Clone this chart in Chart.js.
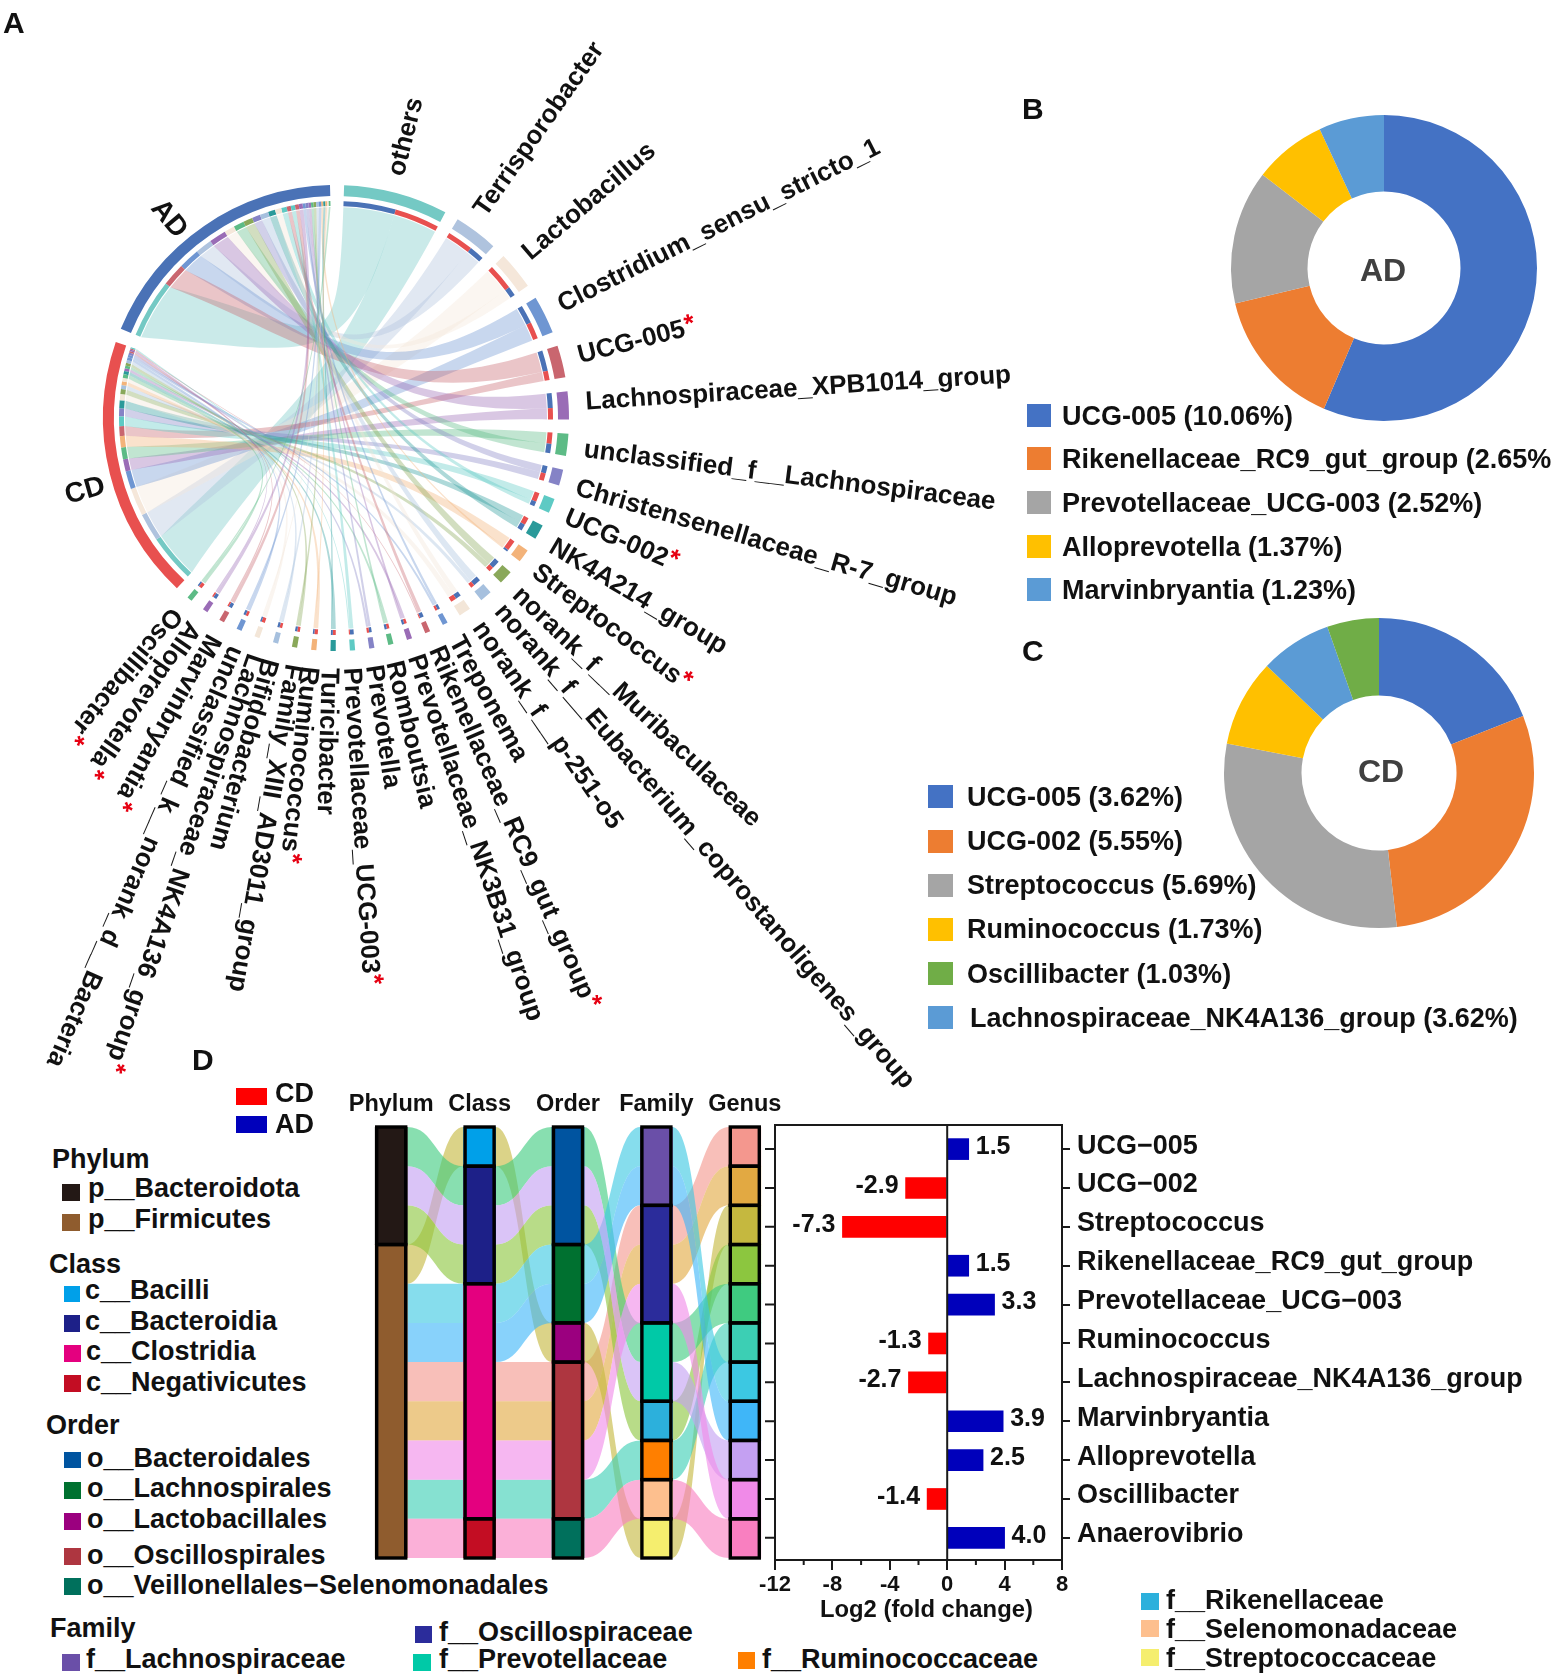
<!DOCTYPE html>
<html>
<head>
<meta charset="utf-8">
<title>Differential genera AD vs CD</title>
<script src="https://cdn.jsdelivr.net/npm/chart.js@4/dist/chart.umd.min.js"></script>
<style>
html, body { margin: 0; background: #fff; }
#page { position: relative; width: 1562px; height: 1679px; overflow: hidden;
  font-family: "Liberation Sans", Arial, sans-serif; font-weight: bold; color: #111; }
#page canvas { position: absolute; }
.t { position: absolute; white-space: nowrap; line-height: 1; transform: translateY(-50%); }
.s { position: absolute; }
</style>
</head>
<body>
<div id="page">
  <canvas id="chordChart" width="1100" height="1120" style="left:0;top:0"></canvas>
  <canvas id="adChart" width="320" height="320" style="left:1224px;top:108px"></canvas>
  <canvas id="cdChart" width="320" height="320" style="left:1219px;top:613px"></canvas>
  <canvas id="flowChart" width="442" height="476" style="left:347px;top:1085px"></canvas>
  <canvas id="foldChart" width="827" height="520" style="left:735px;top:1100px"></canvas>
</div>
<script>
// ── Data: chord (A) ───────────────────────────────────────────
const genusNames = ['others', 'Terrisporobacter', 'Lactobacillus', 'Clostridium_sensu_stricto_1', 'UCG-005',
  'Lachnospiraceae_XPB1014_group', 'unclassified_f__Lachnospiraceae', 'Christensenellaceae_R-7_group', 'UCG-002',
  'NK4A214_group', 'Streptococcus', 'norank_f__Muribaculaceae', 'norank_f__Eubacterium_coprostanoligenes_group',
  'norank_f__p-251-o5', 'Treponema', 'Rikenellaceae_RC9_gut_group', 'Prevotellaceae_NK3B31_group', 'Romboutsia',
  'Prevotella', 'Prevotellaceae_UCG-003', 'Turicibacter', 'Ruminococcus', 'Family_XIII_AD3011_group',
  'Bifidobacterium', 'Lachnospiraceae_NK4A136_group', 'unclassified_k__norank_d__Bacteria', 'Marvinbryantia',
  'Alloprevotella', 'Oscillibacter'];
const genusAD = [14, 4, 2.5, 5, 5.5, 4, 2.5, 2, 1.3, 1.7, 0.5, 2.2, 2, 1.5, 0.7, 1, 0.6, 0.6, 0.7, 1, 0.5, 0.4, 0.6, 0.6, 0.4, 0.6, 0.9, 0.9, 0.4];
const genusCD = [12, 7, 7, 4.5, 2.5, 3, 3, 2, 2.4, 2, 2.8, 1.3, 1, 1.5, 0.6, 0.3, 0.7, 0.7, 0.6, 0.3, 0.8, 0.9, 0.7, 0.7, 0.9, 0.7, 0.4, 0.4, 0.9];
const hostSizes = [66, 66];
const starred = ['UCG-005', 'UCG-002', 'Streptococcus', 'Rikenellaceae_RC9_gut_group', 'Prevotellaceae_UCG-003',
  'Ruminococcus', 'Lachnospiraceae_NK4A136_group', 'Marvinbryantia', 'Alloprevotella', 'Oscillibacter'];
const genusColors = ['#74c9c4', '#afc3de', '#f5e7da', '#6f96d2', '#c9666f', '#9a6cb6', '#5dbb86', '#8583c6', '#5ecac4',
  '#2a9a9a', '#f3b37a', '#8aa85a', '#a6c0de', '#f3e6d8', '#6f96d2', '#c9666f', '#9a6cb6', '#5dbb86', '#8583c6', '#5ecac4',
  '#2a9a9a', '#f3b37a', '#8aa85a', '#a6c0de', '#f3e6d8', '#6f96d2', '#c9666f', '#9a6cb6', '#5dbb86'];
const hostNames = ['AD', 'CD'];
const hostColors = ['#4a72b6', '#e8504f'];
// label fan in the figure is not quite radial, degrees added to each label
const labelShift = [-1, -1.8, -1.2, -0.3, -0.2, -0.5, 0.7, 1.4, 1.1, 1.3, 1, 0.7, -0.6, -0.9, -0.5, -0.2, 0.1, 0.4, 0.3, 0.6, 0.9, 0.7, -0.4, 0.4, -0.8, -1, -0.1, 0.5, 0.7];

// ── Data: doughnuts (B, C) ────────────────────────────────────
const adShares = [10.06, 2.65, 2.52, 1.37, 1.23];
const adColors = ['#4472c4', '#ed7d31', '#a5a5a5', '#ffc000', '#5b9bd5'];
const adLegend = ['UCG-005 (10.06%)', 'Rikenellaceae_RC9_gut_group (2.65%', 'Prevotellaceae_UCG-003 (2.52%)',
  'Alloprevotella (1.37%)', 'Marvinbryantia (1.23%)'];
const cdShares = [3.62, 5.55, 5.69, 1.73, 1.42, 1.03];
const cdColors = ['#4472c4', '#ed7d31', '#a5a5a5', '#ffc000', '#5b9bd5', '#70ad47'];
const cdLegend = ['UCG-005 (3.62%)', 'UCG-002 (5.55%)', 'Streptococcus (5.69%)', 'Ruminococcus (1.73%)',
  'Oscillibacter (1.03%)', 'Lachnospiraceae_NK4A136_group (3.62%)'];
const cdLegendColors = ['#4472c4', '#ed7d31', '#a5a5a5', '#ffc000', '#70ad47', '#5b9bd5'];

// ── Data: taxonomy flows and fold change (D) ──────────────────
const ranks = ['Phylum', 'Class', 'Order', 'Family', 'Genus'];
const foldGenera = ['UCG\u2212005', 'UCG\u2212002', 'Streptococcus', 'Rikenellaceae_RC9_gut_group', 'Prevotellaceae_UCG\u2212003',
  'Ruminococcus', 'Lachnospiraceae_NK4A136_group', 'Marvinbryantia', 'Alloprevotella', 'Oscillibacter', 'Anaerovibrio'];
const foldChange = [1.5, -2.9, -7.3, 1.5, 3.3, -1.3, -2.7, 3.9, 2.5, -1.4, 4.0];
const foldColors = { CD: '#ff0000', AD: '#0000bb' };
const genusNodeColors = ['#f4978e', '#e2a942', '#c5b83f', '#8cc63f', '#3fcb80', '#3ccfb4', '#3cc8e2', '#3fb6f8', '#c4a0f2', '#f08ae8', '#f97fc0'];

const phylumMembers = [[4, 8, 3], [2, 6, 7, 0, 1, 9, 5, 10]];
const classMembers = [[2], [4, 8, 3], [6, 7, 0, 1, 9, 5], [10]];
const orderMembers = [[4, 8, 3], [6, 7], [2], [0, 1, 9, 5], [10]];
const familyMembers = [[6, 7], [0, 1, 9], [4, 8], [3], [5], [10], [2]];
const genusMembers = foldGenera.map((_, i) => [i]);

const phylumNames = ['p__Bacteroidota', 'p__Firmicutes'];
const phylumColors = ['#231815', '#8f5c2e'];
const classNames = ['c__Bacilli', 'c__Bacteroidia', 'c__Clostridia', 'c__Negativicutes'];
const classColors = ['#00a0e9', '#1d2088', '#e4007f', '#c30d23'];
const orderNames = ['o__Bacteroidales', 'o__Lachnospirales', 'o__Lactobacillales', 'o__Oscillospirales', 'o__Veillonellales\u2212Selenomonadales'];
const orderColors = ['#0054a0', '#007130', '#9b007f', '#ae3640', '#00705c'];
const familyNames = ['f__Lachnospiraceae', 'f__Oscillospiraceae', 'f__Prevotellaceae', 'f__Rikenellaceae', 'f__Ruminococcaceae', 'f__Selenomonadaceae', 'f__Streptococcaceae'];
const familyColors = ['#6a4fa8', '#2b2c9b', '#00c9a7', '#2cb0dc', '#ff7f00', '#fdbf8e', '#f5ee6e'];

// ── Layout of the text outside the charts ─────────────────────
const page = document.getElementById('page');
function put(text, x, y, size, color) {
  const el = document.createElement('div');
  el.className = 't';
  el.textContent = text;
  el.style.cssText = `left:${x}px;top:${y}px;font-size:${size}px;` + (color ? `color:${color};` : '');
  page.appendChild(el);
  return el;
}
function swatch(color, x, y, w, h) {
  const el = document.createElement('div');
  el.className = 's';
  el.style.cssText = `left:${x}px;top:${y}px;width:${w}px;height:${h}px;background:${color};`;
  page.appendChild(el);
}
function legend(names, colors, rows, size) {
  names.forEach((name, i) => {
    const [sx, sy, sw, sh, tx, ty] = rows[i];
    swatch(colors[i], sx, sy, sw, sh);
    put(name, tx, ty, size);
  });
}

const panelSize = 30;
put('A', 3, 23, panelSize);
put('B', 1022, 109, panelSize);
put('C', 1022, 651, panelSize);
put('D', 192, 1060, panelSize);

const legendSize = 27;
legend(adLegend, adColors, [[1027, 404, 24, 23, 1062, 416], [1027, 447, 24, 23, 1062, 459], [1027, 491, 24, 23, 1062, 503], [1027, 535, 24, 23, 1062, 547], [1027, 578, 24, 23, 1062, 590]], legendSize);
legend(cdLegend, cdLegendColors, [[928, 785, 25, 23, 967, 797], [928, 830, 25, 23, 967, 841], [928, 874, 25, 23, 967, 885], [928, 918, 25, 23, 967, 929], [928, 962, 25, 23, 967, 974], [928, 1006, 25, 23, 970, 1018]], legendSize);
put('AD', 1360, 270, 32, '#404040');
put('CD', 1358, 771, 32, '#404040');

legend(['CD', 'AD'], [foldColors.CD, foldColors.AD], [[236, 1088, 31, 17, 275, 1093], [236, 1116, 31, 17, 275, 1124]], legendSize);
const headSize = 27;
put('Phylum', 52, 1159, headSize);
legend(phylumNames, phylumColors, [[62, 1184, 18, 17, 88, 1188], [62, 1214, 18, 17, 88, 1219]], legendSize);
put('Class', 49, 1264, headSize);
legend(classNames, classColors, [[64, 1286, 16, 16, 85, 1290], [64, 1315, 16, 17, 85, 1321], [64, 1345, 17, 17, 86, 1351], [64, 1375, 17, 17, 86, 1382]], legendSize);
put('Order', 46, 1425, headSize);
legend(orderNames, orderColors, [[64, 1452, 17, 16, 87, 1458], [64, 1482, 17, 17, 87, 1488], [64, 1513, 17, 17, 87, 1519], [64, 1548, 17, 17, 87, 1555], [64, 1578, 17, 17, 87, 1585]], legendSize);
put('Family', 50, 1628, headSize);
legend(familyNames, familyColors, [[62, 1654, 18, 17, 86, 1659], [415, 1626, 17, 17, 439, 1632], [413, 1654, 18, 17, 439, 1659], [1141, 1593, 18, 17, 1166, 1600], [738, 1652, 17, 17, 762, 1659], [1141, 1620, 18, 17, 1166, 1629], [1141, 1649, 18, 17, 1166, 1658]], legendSize);
put('Log2 (fold change)', 820, 1609, 23.8);

Chart.defaults.font.family = '"Liberation Sans", Arial, sans-serif';
Chart.defaults.font.weight = 'bold';
Chart.defaults.color = '#111';
Chart.defaults.animation = false;

// ── A: chord diagram, ring is a doughnut, ribbons follow its arcs ──
const gapSize = 3.48;
const ringValues = [], ringColors = [], ringKeys = [];
genusNames.forEach((_, i) => {
  ringValues.push(genusAD[i] + genusCD[i], gapSize);
  ringColors.push(genusColors[i], 'rgba(0,0,0,0)');
  ringKeys.push('g' + i, 'gap');
});
const sum = arr => arr.reduce((a, b) => a + b, 0);
[1, 0].forEach(h => {
  ringValues.push(hostSizes[h], gapSize);
  ringColors.push(hostColors[h], 'rgba(0,0,0,0)');
  ringKeys.push('h' + h, 'gap');
});

const ringOuter = 233, ringInner = 222, stripOuter = 217, stripInner = 212, ribbonR = 211;
// points ribbons bundle through on their way to each host, relative to centre
const hostFocus = [[-18, -78], [-70, 28]];

const chordPlugin = {
  id: 'chord',
  afterDatasetsDraw(chart) {
    const { ctx } = chart;
    const arcs = chart.getDatasetMeta(0).data;
    const cx = arcs[0].x, cy = arcs[0].y;
    const hostArc = h => arcs[ringKeys.indexOf('h' + h)];
    const shares = [genusAD, genusCD];

    // where each ribbon lands on its host, biggest first
    const hostSpan = shares.map((vals, h) => {
      const arc = hostArc(h), total = sum(vals);
      const span = {};
      let a = arc.startAngle;
      vals.map((v, i) => [v, i]).sort((p, q) => q[0] - p[0]).forEach(([v, i]) => {
        const da = (arc.endAngle - arc.startAngle) * v / total;
        span[i] = [a, a + da];
        a += da;
      });
      return span;
    });

    const at = (r, a) => [cx + r * Math.cos(a), cy + r * Math.sin(a)];
    const strip = (a0, a1, color, r1, r0) => {
      ctx.beginPath();
      ctx.arc(cx, cy, r1, a0, a1);
      ctx.arc(cx, cy, r0, a1, a0, true);
      ctx.closePath();
      ctx.fillStyle = color;
      ctx.fill();
    };

    genusNames.forEach((_, i) => {
      const arc = arcs[ringKeys.indexOf('g' + i)];
      const order = genusAD[i] >= genusCD[i] ? [0, 1] : [1, 0];
      const total = genusAD[i] + genusCD[i];
      let a = arc.startAngle;
      order.forEach(h => {
        const da = (arc.endAngle - arc.startAngle) * shares[h][i] / total;
        const [b0, b1] = hostSpan[h][i];
        const [fx, fy] = hostFocus[h];
        const p0 = at(ribbonR, a), p1 = at(ribbonR, a + da), q0 = at(ribbonR, b0), q1 = at(ribbonR, b1);
        const pull = 0.2, keep = 0.45;
        // host side controls stay a little apart so a ribbon keeps some width in the bundle
        const qmx = (q0[0] + q1[0]) / 2, qmy = (q0[1] + q1[1]) / 2;
        const c0 = [cx + fx + (q0[0] - qmx) * keep, cy + fy + (q0[1] - qmy) * keep];
        const c1 = [cx + fx + (q1[0] - qmx) * keep, cy + fy + (q1[1] - qmy) * keep];
        ctx.beginPath();
        ctx.moveTo(p0[0], p0[1]);
        ctx.arc(cx, cy, ribbonR, a, a + da);
        ctx.bezierCurveTo(cx + (p1[0] - cx) * pull, cy + (p1[1] - cy) * pull, c0[0], c0[1], q0[0], q0[1]);
        ctx.arc(cx, cy, ribbonR, b0, b1);
        ctx.bezierCurveTo(c1[0], c1[1], cx + (p0[0] - cx) * pull, cy + (p0[1] - cy) * pull, p0[0], p0[1]);
        ctx.closePath();
        ctx.globalAlpha = 0.38;
        ctx.fillStyle = genusColors[i];
        ctx.fill();
        ctx.globalAlpha = 1;
        strip(a, a + da, hostColors[h], stripOuter, stripInner);
        strip(b0, b1, genusColors[i], stripOuter, stripInner);
        a += da;
      });
    });

    // genus labels run outward from the ring
    ctx.textBaseline = 'middle';
    ctx.textAlign = 'left';
    genusNames.forEach((name, i) => {
      const arc = arcs[ringKeys.indexOf('g' + i)];
      const mid = (arc.startAngle + arc.endAngle) / 2 + labelShift[i] * Math.PI / 180;
      const [x, y] = at(ringOuter + 17, mid);
      ctx.save();
      ctx.translate(x, y);
      ctx.rotate(mid);
      ctx.font = 'bold 26px "Liberation Sans", Arial, sans-serif';
      ctx.fillStyle = '#111';
      ctx.fillText(name, 0, 0);
      if (starred.includes(name)) {
        const w = ctx.measureText(name).width;
        ctx.fillStyle = '#e60012';
        ctx.fillText('*', w + 1, -3);
      }
      ctx.restore();
    });

    // host names
    [['AD', 169, 219, 50], ['CD', 85, 491, -16]].forEach(([txt, x, y, deg]) => {
      ctx.save();
      ctx.translate(x, y);
      ctx.rotate(deg * Math.PI / 180);
      ctx.textAlign = 'center';
      ctx.font = 'bold 28px "Liberation Sans", Arial, sans-serif';
      ctx.fillStyle = '#111';
      ctx.fillText(txt, 0, 0);
      ctx.restore();
    });
  }
};

new Chart(document.getElementById('chordChart'), {
  type: 'doughnut',
  data: { labels: ringKeys, datasets: [{ data: ringValues, backgroundColor: ringColors, borderWidth: 0 }] },
  options: {
    responsive: false,
    rotation: 2,
    radius: ringOuter,
    cutout: (ringInner / ringOuter * 100) + '%',
    layout: { padding: { right: 428, bottom: 284 } },
    plugins: { legend: { display: false }, tooltip: { enabled: false } }
  },
  plugins: [chordPlugin]
});

// ── B, C: doughnuts ───────────────────────────────────────────
function donut(id, shares, colors, radius) {
  new Chart(document.getElementById(id), {
    type: 'doughnut',
    data: { labels: shares.map(String), datasets: [{ data: shares, backgroundColor: colors, borderWidth: 0 }] },
    options: {
      responsive: false, radius, cutout: '50%',
      plugins: { legend: { display: false }, tooltip: { enabled: false } }
    }
  });
}
donut('adChart', adShares, adColors, 153);
donut('cdChart', cdShares, cdColors, 155);

// ── D: flows between floating bars ────────────────────────────
const rankMembers = [phylumMembers, classMembers, orderMembers, familyMembers, genusMembers];
const rankColors = [phylumColors, classColors, orderColors, familyColors, genusNodeColors];
const nodePoints = [], nodeColors = [];
rankMembers.forEach((nodes, r) => {
  let top = 0;
  nodes.forEach((members, n) => {
    nodePoints.push({ x: ranks[r], y: [top, top + members.length] });
    nodeColors.push(rankColors[r][n]);
    top += members.length;
  });
});

const flowPlugin = {
  id: 'flows',
  beforeDatasetsDraw(chart) {
    const { ctx, scales } = chart;
    const bars = chart.getDatasetMeta(0).data;
    // one column of slots per rank: genus -> [top value, bottom value], x edges from the bars
    let k = 0;
    const columns = rankMembers.map(nodes => {
      const slots = {};
      let top = 0, bar = null;
      nodes.forEach(members => {
        bar = bars[k++];
        members.forEach(g => { slots[g] = [top, top + 1]; top += 1; });
      });
      return { slots, x: bar.x, half: bar.width / 2 };
    });
    ctx.save();
    ctx.globalAlpha = 0.62;
    for (let c = 0; c < columns.length - 1; c++) {
      const a = columns[c], b = columns[c + 1];
      const x0 = a.x + a.half, x1 = b.x - b.half, xm = (x0 + x1) / 2;
      foldGenera.forEach((_, g) => {
        const y = v => scales.y.getPixelForValue(v);
        const [a0, a1] = a.slots[g], [b0, b1] = b.slots[g];
        ctx.beginPath();
        ctx.moveTo(x0, y(a0));
        ctx.bezierCurveTo(xm, y(a0), xm, y(b0), x1, y(b0));
        ctx.lineTo(x1, y(b1));
        ctx.bezierCurveTo(xm, y(b1), xm, y(a1), x0, y(a1));
        ctx.closePath();
        ctx.fillStyle = genusNodeColors[g];
        ctx.fill();
      });
    }
    ctx.restore();
  },
  afterDatasetsDraw(chart) {
    const { ctx } = chart;
    ctx.save();
    ctx.strokeStyle = '#000';
    ctx.lineWidth = 3.4;
    chart.getDatasetMeta(0).data.forEach(bar => {
      ctx.strokeRect(bar.x - bar.width / 2 + 1.5, bar.y, bar.width - 3, bar.base - bar.y);
    });
    ctx.restore();
  }
};

new Chart(document.getElementById('flowChart'), {
  type: 'bar',
  data: {
    labels: ranks,
    datasets: [{ data: nodePoints, backgroundColor: nodeColors, borderWidth: 0, barThickness: 32, grouped: false }]
  },
  options: {
    responsive: false,
    layout: { padding: { bottom: 3 } },
    plugins: { legend: { display: false }, tooltip: { enabled: false } },
    scales: {
      x: {
        position: 'top',
        grid: { display: false },
        border: { display: false },
        ticks: { font: { size: 23.5, weight: 'bold' }, padding: 0, maxRotation: 0 },
        afterFit: s => { s.height = 42; }
      },
      y: { display: false, reverse: true, min: 0, max: 11 }
    }
  },
  plugins: [flowPlugin]
});

// ── D: fold change bars ───────────────────────────────────────
const minorTicks = [-10, -6, -2, 2, 6];
const foldPlugin = {
  id: 'foldDecor',
  afterDatasetsDraw(chart) {
    const { ctx, chartArea: area, scales: { x, y } } = chart;
    ctx.save();
    ctx.strokeStyle = '#1a1a1a';
    ctx.lineWidth = 2;
    ctx.beginPath();
    ctx.moveTo(area.left, area.bottom + 1); ctx.lineTo(area.left, area.top);
    ctx.lineTo(area.right, area.top);
    ctx.moveTo(x.getPixelForValue(0), area.top); ctx.lineTo(x.getPixelForValue(0), area.bottom);
    foldGenera.forEach((_, i) => {
      const py = y.getPixelForValue(i);
      ctx.moveTo(area.left - 10, py); ctx.lineTo(area.left, py);
    });
    minorTicks.forEach(v => {
      const px = x.getPixelForValue(v);
      ctx.moveTo(px, area.bottom); ctx.lineTo(px, area.bottom + 5);
    });
    ctx.stroke();

    ctx.fillStyle = '#111';
    ctx.font = 'bold 25px "Liberation Sans", Arial, sans-serif';
    ctx.textBaseline = 'middle';
    chart.getDatasetMeta(0).data.forEach((bar, i) => {
      const v = foldChange[i];
      ctx.textAlign = v < 0 ? 'right' : 'left';
      ctx.fillText(v.toFixed(1), bar.x + (v < 0 ? -7 : 7), bar.y - 2);
    });
    ctx.restore();
  }
};

new Chart(document.getElementById('foldChart'), {
  type: 'bar',
  data: {
    datasets: [{
      data: foldChange.map((v, i) => ({ x: v, y: i })),
      backgroundColor: foldChange.map(v => (v < 0 ? foldColors.CD : foldColors.AD)),
      borderWidth: 0,
      barThickness: 21
    }]
  },
  options: {
    responsive: false,
    indexAxis: 'y',
    layout: { padding: { left: 40, top: 25 } },
    plugins: { legend: { display: false }, tooltip: { enabled: false } },
    scales: {
      x: {
        type: 'linear', min: -12, max: 8,
        grid: { display: true, drawOnChartArea: false, tickLength: 10, color: '#1a1a1a', lineWidth: 2 },
        border: { color: '#1a1a1a', width: 2 },
        ticks: { stepSize: 4, font: { size: 22, weight: 'bold' }, padding: 2, maxRotation: 0 },
        afterFit: s => { s.height = 60; }
      },
      y: {
        type: 'linear', position: 'right', reverse: true, min: -0.62, max: 10.57, offset: false,
        grid: { display: true, offset: false, drawOnChartArea: false, tickLength: 8, color: '#1a1a1a', lineWidth: 2 },
        border: { color: '#1a1a1a', width: 2 },
        afterBuildTicks: s => { s.ticks = foldGenera.map((_, i) => ({ value: i })); },
        ticks: { autoSkip: false, font: { size: 27, weight: 'bold' }, padding: 7, labelOffset: -3, callback: v => foldGenera[v] },
        afterFit: s => { s.width = 500; }
      }
    }
  },
  plugins: [foldPlugin]
});
</script>
</body>
</html>
